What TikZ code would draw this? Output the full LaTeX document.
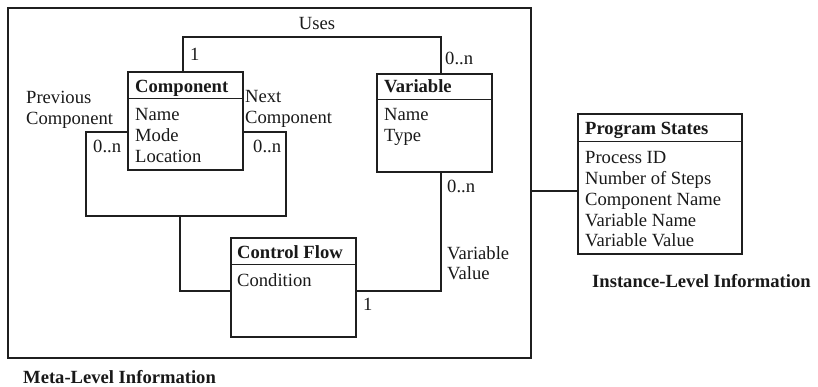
\documentclass[tikz,border=0pt]{standalone}
\usepackage{fontspec}
\setmainfont{Liberation Serif}
\begin{document}
\begin{tikzpicture}[x=1pt,y=-1pt,
  box/.style={draw=black!88, line width=1.3pt, inner sep=0pt},
  conn/.style={draw=black!88, line width=1.3pt},
  txt/.style={anchor=base west, inner sep=0pt, font=\fontsize{18.6}{20.7}\selectfont, text=black!90},
  hdr/.style={txt, font=\fontsize{18.6}{20.7}\selectfont\bfseries}]
\useasboundingbox (0,0) rectangle (818,387);

% meta-level frame
\node[box, minimum width=523pt, minimum height=350pt] (meta) at (269.5,183) {};

% class boxes
\node[box, minimum width=115pt, minimum height=98pt] (comp) at (185.5,121) {};
\draw[conn] ([yshift=-27pt]comp.north west) -- ([yshift=-27pt]comp.north east);
\node[hdr] (compH) at (135,93) {Component};
\node[txt] (compA1) at (135,121) {Name};
\node[txt] (compA2) at (135,142) {Mode};
\node[txt] (compA3) at (135,163) {Location};

\node[box, minimum width=115pt, minimum height=98pt] (var) at (434.5,123) {};
\draw[conn] ([yshift=-26pt]var.north west) -- ([yshift=-26pt]var.north east);
\node[hdr] (varH) at (384,93) {Variable};
\node[txt] (varA1) at (384,121) {Name};
\node[txt] (varA2) at (384,142) {Type};

\node[box, minimum width=125pt, minimum height=99pt] (cf) at (293.5,287.5) {};
\draw[conn] ([yshift=-27pt]cf.north west) -- ([yshift=-27pt]cf.north east);
\node[hdr] (cfH) at (237,258) {Control Flow};
\node[txt] (cfA1) at (237,286) {Condition};

\node[box, minimum width=164pt, minimum height=140pt] (ps) at (660,184) {};
\draw[conn] ([yshift=-28pt]ps.north west) -- ([yshift=-28pt]ps.north east);
\node[hdr] (psH) at (585,135) {Program States};
\node[txt] (psA1) at (585,164) {Process ID};
\node[txt] (psA2) at (585,184.7) {Number of Steps};
\node[txt] (psA3) at (585,205.4) {Component Name};
\node[txt] (psA4) at (585,226.1) {Variable Name};
\node[txt] (psA5) at (585,246.8) {Variable Value};

% Uses association
\coordinate (u1) at (183,37);
\coordinate (u2) at (441,37);
\draw[conn] (comp.north -| u1) -- (u1) -- (u2) -- (var.north -| u2);
\node[txt, anchor=base] (usesL) at (317,30) {Uses};
\node[txt] (usesM1) at (190,61) {1};
\node[txt] (usesM2) at (445,65) {0..n};

% previous / next component loop
\coordinate (p1) at (86,132);
\coordinate (p2) at (86,216);
\coordinate (p3) at (286,216);
\coordinate (p4) at (286,132);
\draw[conn] (comp.west |- p1) -- (p1) -- (p2) -- (p3) -- (p4) -- (comp.east |- p4);
\node[txt] (prevL1) at (26,104) {Previous};
\node[txt] (prevL2) at (26,125) {Component};
\node[txt] (prevM) at (93,153) {0..n};
\node[txt] (nextL1) at (245,103) {Next};
\node[txt] (nextL2) at (245,124) {Component};
\node[txt] (nextM) at (253,153) {0..n};

% control flow links
\coordinate (c1) at (180,216);
\coordinate (c2) at (180,291);
\draw[conn] (c1) -- (c2) -- (cf.west |- c2);
\coordinate (v1) at (441,291);
\draw[conn] (var.south -| v1) -- (v1) -- (cf.east |- v1);
\node[txt] (valM) at (447,193) {0..n};
\node[txt] (valL1) at (447,259) {Variable};
\node[txt] (valL2) at (447,279.7) {Value};
\node[txt] (cfM) at (363,310) {1};

% link to instance level
\coordinate (ps1) at (531,191);
\draw[conn] (meta.east |- ps1) -- (ps.west |- ps1);

% level captions
\node[hdr] (metaL) at (23,383) {Meta-Level Information};
\node[hdr] (instL) at (592,287) {Instance-Level Information};
\end{tikzpicture}
\end{document}
